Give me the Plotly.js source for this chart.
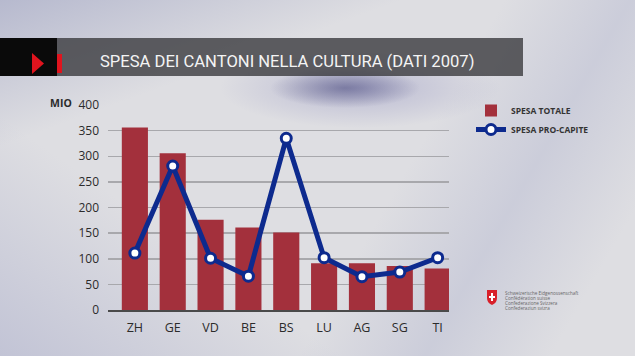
<!DOCTYPE html>
<html><head><meta charset="utf-8">
<script src="https://cdn.plot.ly/plotly-3.0.1.min.js"></script>
<style>
html,body{margin:0;padding:0;width:635px;height:356px;overflow:hidden;}
body{background:
 radial-gradient(ellipse 75px 20px at 345px 88px, rgba(80,80,130,0.6), rgba(120,120,170,0) 100%),
 radial-gradient(ellipse 140px 40px at 360px 88px, rgba(140,140,190,0.45), rgba(160,160,200,0) 100%),
 linear-gradient(160deg, rgba(150,155,190,0.55) 0%, rgba(200,200,215,0) 25%),
 linear-gradient(35deg, rgba(175,178,205,0.6) 0%, rgba(210,210,222,0) 30%),
 linear-gradient(120deg, rgba(190,192,215,0.0) 60%, rgba(185,188,210,0.5) 75%, rgba(220,220,228,0) 90%),
 #dedee2;}
#chart{width:635px;height:356px;}
</style></head>
<body><div id="chart"></div>
<script>
var cantons = ['ZH','GE','VD','BE','BS','LU','AG','SG','TI'];
var spesaTotale = [356, 306, 176, 161, 151, 91, 91, 86, 81];
var spesaProCapite = [111, 281, 101, 66, 335, 102, 65, 74, 102];
var yTicks = [0, 50, 100, 150, 200, 250, 300, 350, 400];
var titleText = 'SPESA DEI CANTONI NELLA CULTURA (DATI 2007)';
var unitLabel = 'MIO';
var legendNames = ['SPESA TOTALE', 'SPESA PRO-CAPITE'];
var logoLines = ['Schweizerische Eidgenossenschaft', 'Confédération suisse', 'Confederazione Svizzera', 'Confederaziun svizra'];

// pixel -> paper helpers (plot area 108..449 x, 105..310 y)
var L = 108, R = 449, T = 105, B = 310;
function px(x){ return (x - L) / (R - L); }
function py(y){ return (B - y) / (B - T); }

var traces = [
 {type:'bar', x:cantons, y:spesaTotale, name:legendNames[0],
  marker:{color:'#a3303c'}, hoverinfo:'x+y'},
 {type:'scatter', mode:'lines+markers', x:cantons, y:spesaProCapite, name:legendNames[1],
  line:{color:'#0d2a8e', width:5},
  marker:{color:'#ffffff', size:10, line:{color:'#0d2a8e', width:3}}}
];

var logoAnn = logoLines.map(function(t,i){
 return {xref:'paper', yref:'paper', x:px(503), y:py(293 + i*5), text:t, showarrow:false,
  xanchor:'left', yanchor:'middle', font:{family:'Open Sans', size:4.6, color:'#666'}};
});

var layout = {
 width:635, height:356,
 margin:{l:L, r:635-R, t:T, b:356-B, pad:0},
 paper_bgcolor:'rgba(0,0,0,0)', plot_bgcolor:'rgba(0,0,0,0)',
 font:{family:'Open Sans, Lato, sans-serif', color:'#2b2b2b'},
 title:{text:titleText, x:100/635, xref:'container', xanchor:'left', y:1-61/356, yref:'container', yanchor:'middle',
  font:{family:'Roboto, sans-serif', size:16.6, color:'#f4f4f4'}},
 bargap:0.31,
 showlegend:true,
 legend:{x:px(471), y:py(96), xanchor:'left', yanchor:'top', bgcolor:'rgba(0,0,0,0)',
  font:{family:'Open Sans', size:8.5, color:'#333', weight:'bold'}, tracegroupgap:12, itemwidth:30},
 xaxis:{type:'category', range:[-0.71, 8.3], showgrid:false, showline:true, linecolor:'#4a4a4a', linewidth:2,
  ticks:'', tickfont:{size:12.5, color:'#2b2b2b'}, ticklabelstandoff:5, fixedrange:true},
 yaxis:{range:[0,400], tickvals:yTicks, showgrid:true, gridcolor:'#a8a8ac', gridwidth:1.5,
  zeroline:false, showline:false, ticks:'', tickfont:{size:12, color:'#2b2b2b'}, ticklabelstandoff:8, fixedrange:true},
 shapes:[
  {type:'rect', xref:'paper', yref:'paper', x0:px(0), x1:px(523), y0:py(76), y1:py(38),
   fillcolor:'rgba(62,62,66,0.82)', line:{width:0}, layer:'below'},
  {type:'rect', xref:'paper', yref:'paper', x0:px(0), x1:px(57), y0:py(76), y1:py(38),
   fillcolor:'#0a0a0a', line:{width:0}, layer:'below'},
  {type:'rect', xref:'paper', yref:'paper', x0:px(57), x1:px(62), y0:py(73), y1:py(54),
   fillcolor:'#e0141e', line:{width:0}, layer:'below'},
  {type:'path', xref:'paper', yref:'paper',
   path:'M '+px(32)+' '+py(53)+' L '+px(44)+' '+py(63.5)+' L '+px(32)+' '+py(74)+' Z',
   fillcolor:'#e0141e', line:{width:0}, layer:'below'},
  {type:'path', xref:'paper', yref:'paper',
   path:'M '+px(487)+' '+py(290)+' L '+px(497)+' '+py(290)+' L '+px(497)+' '+py(298)+' Q '+px(497)+' '+py(303)+' '+px(492)+' '+py(305)+' Q '+px(487)+' '+py(303)+' '+px(487)+' '+py(298)+' Z',
   fillcolor:'#d8202a', line:{width:0}},
  {type:'rect', xref:'paper', yref:'paper', x0:px(491), x1:px(493), y0:py(301), y1:py(293), fillcolor:'#fff', line:{width:0}},
  {type:'rect', xref:'paper', yref:'paper', x0:px(489), x1:px(495), y0:py(298), y1:py(296), fillcolor:'#fff', line:{width:0}}
 ],
 annotations:[
  {xref:'paper', yref:'paper', x:px(48), y:py(103), text:'<b>'+unitLabel+'</b>', showarrow:false,
   xanchor:'left', yanchor:'middle', font:{family:'Open Sans', size:10.5, color:'#2b2b2b'}}
 ].concat(logoAnn)
};

Plotly.newPlot('chart', traces, layout, {displayModeBar:false, staticPlot:true});
</script></body></html>
